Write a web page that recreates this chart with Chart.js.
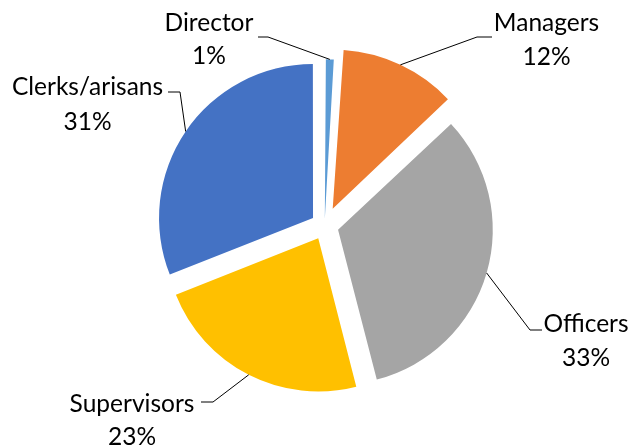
<!DOCTYPE html>
<html>
<head>
<meta charset="utf-8">
<script src="https://cdn.jsdelivr.net/npm/chart.js@4"></script>
<style>
  html, body { margin: 0; padding: 0; background: #fff; }
  #wrap { width: 630px; height: 446px; }
</style>
</head>
<body>
<div id="wrap"><canvas id="myChart"></canvas></div>
<script>
/******Datos******/
var puestos = ['Director', 'Managers', 'Officers', 'Supervisors', 'Clerks/arisans'];
var porcentajes = [1, 12, 33, 23, 31];
var colores = ['#5B9BD5', '#ED7D31', '#A5A5A5', '#FFC000', '#4472C4'];
// separacion de cada rebanada (Managers va mas separada)
var separacion = [28, 76, 56, 56, 56];

/******Posicion de etiquetas y lineas guia******/
var etiquetas = [
    { x: 209,   y1: 31,  y2: 64,  linea: [[258, 37], [268, 37]] },
    { x: 546.5, y1: 31,  y2: 65,  linea: [[492, 37], [477, 37]] },
    { x: 586,   y1: 332, y2: 366, linea: [[542, 330], [530, 330]] },
    { x: 132,   y1: 412, y2: 445, linea: [[201, 402], [213, 402]] },
    { x: 87.5,  y1: 95,  y2: 130, linea: [[168, 92], [180, 92]] }
];

var etiquetasPlugin = {
    id: 'etiquetas',
    afterDatasetsDraw: function(chart) {
        var ctx = chart.ctx;
        var meta = chart.getDatasetMeta(0);
        ctx.save();
        meta.data.forEach(function(arc, i) {
            var p = arc.getProps(['x', 'y', 'startAngle', 'endAngle', 'outerRadius', 'circumference']);
            var off = (arc.options.offset || 0) / 4;
            var fix = 1 - Math.sin(Math.min(Math.PI, p.circumference));
            var r = p.outerRadius + off * fix + off;
            var mid = (p.startAngle + p.endAngle) / 2;
            var ax = p.x + Math.cos(mid) * r;
            var ay = p.y + Math.sin(mid) * r;
            var e = etiquetas[i];

            // linea guia
            ctx.strokeStyle = '#000';
            ctx.lineWidth = 1;
            ctx.beginPath();
            ctx.moveTo(e.linea[0][0], e.linea[0][1]);
            ctx.lineTo(e.linea[1][0], e.linea[1][1]);
            ctx.lineTo(ax, ay);
            ctx.stroke();

            // texto
            ctx.fillStyle = '#000';
            ctx.font = '24.5px Lato';
            ctx.textAlign = 'center';
            ctx.textBaseline = 'alphabetic';
            ctx.fillText(chart.data.labels[i], e.x, e.y1);
            ctx.fillText(chart.data.datasets[0].data[i] + '%', e.x, e.y2);
        });
        ctx.restore();
    }
};

/******Grafica de pastel******/
var ctx = document.getElementById('myChart').getContext('2d');
var myChart = new Chart(ctx, {
    type: 'pie',
    data: {
        labels: puestos,
        datasets: [{
            data: porcentajes,
            backgroundColor: colores,
            borderWidth: 0,
            offset: separacion,
            hoverOffset: 0
        }]
    },
    options: {
        responsive: true,
        maintainAspectRatio: false,
        animation: false,
        events: [],
        radius: 153,
        layout: {
            padding: { left: 19.2, top: 5.8, right: 0, bottom: 0 }
        },
        plugins: {
            legend: { display: false },
            tooltip: { enabled: false }
        }
    },
    plugins: [etiquetasPlugin]
});
</script>
</body>
</html>
